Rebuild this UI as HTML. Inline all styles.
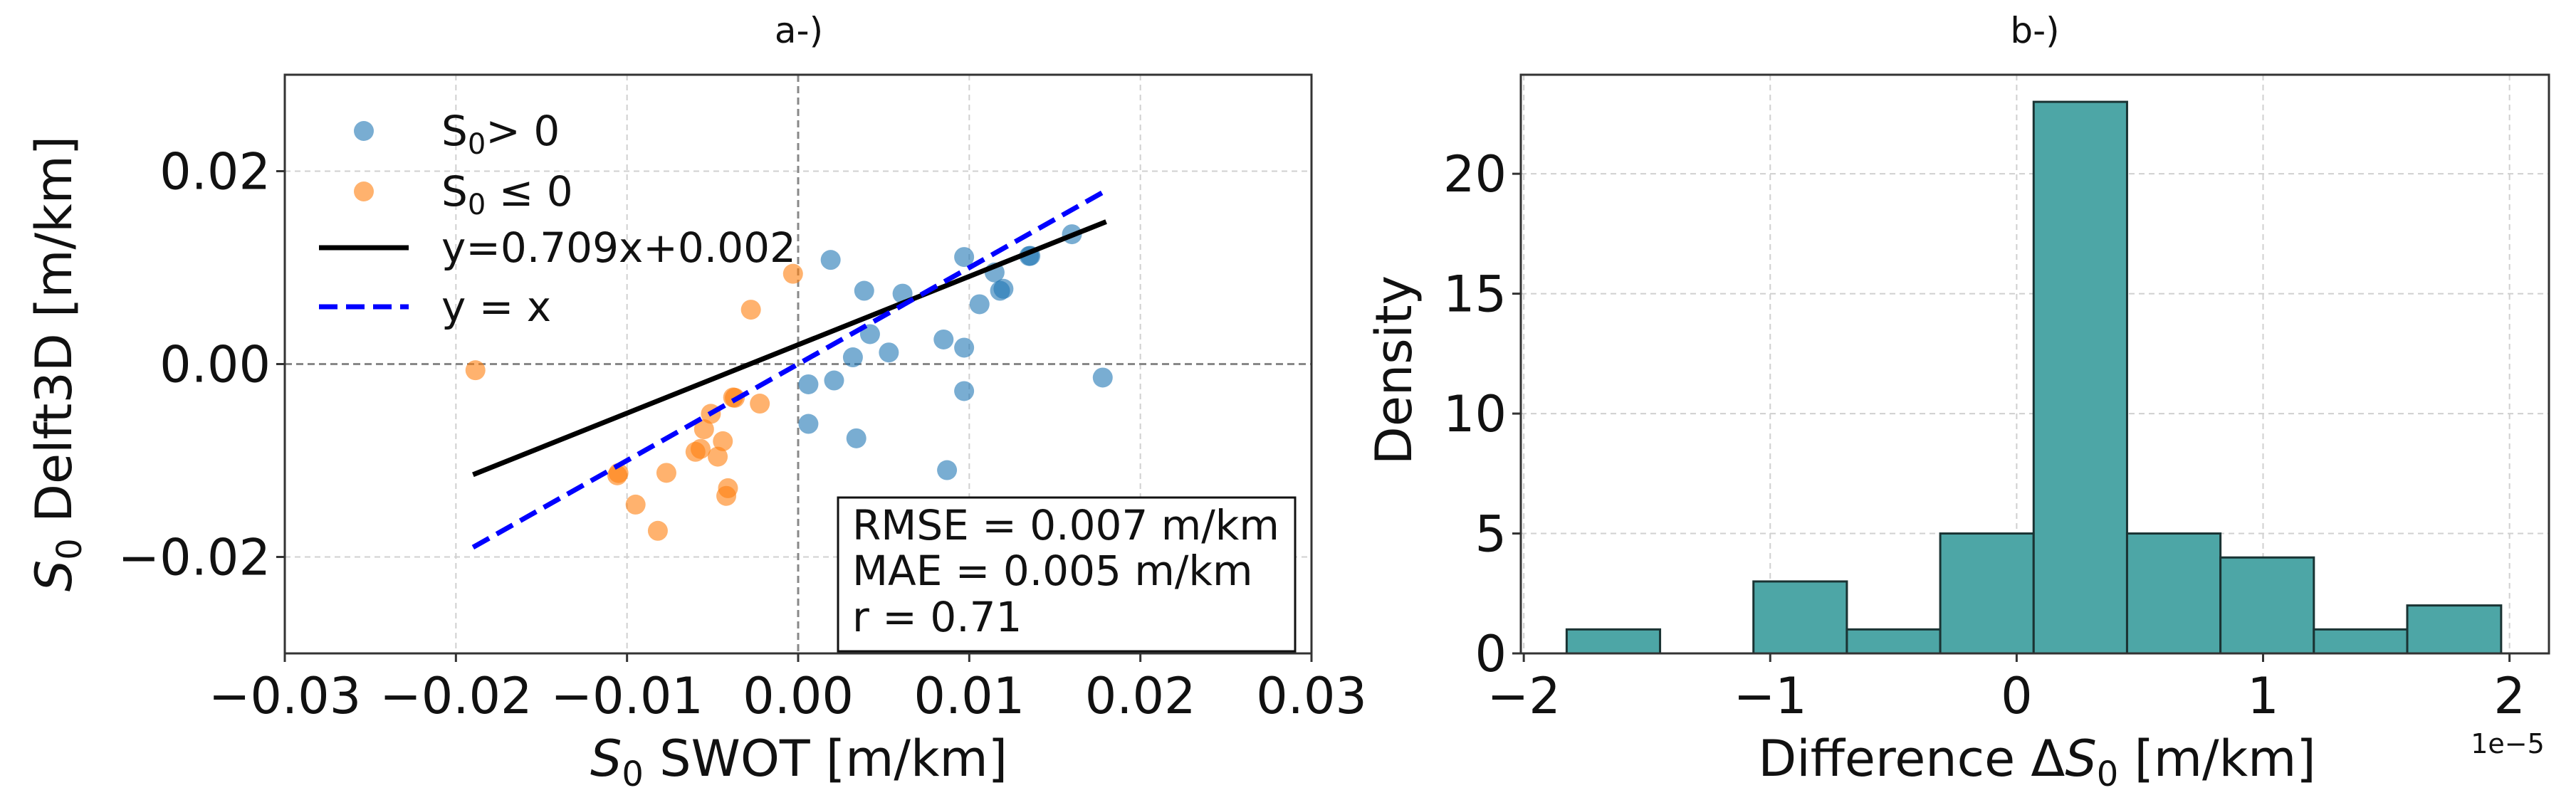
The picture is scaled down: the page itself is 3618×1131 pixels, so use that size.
<!DOCTYPE html>
<html><head><meta charset="utf-8"><style>
html,body{margin:0;padding:0;background:#fff;}
svg{display:block;font-family:"DejaVu Sans","Liberation Sans",sans-serif;}
</style></head><body>
<svg id="fig" width="3618" height="1131" viewBox="0 0 3618 1131" xmlns="http://www.w3.org/2000/svg">
<g id="pa"></g>
<g id="pb"></g>
</svg>
<script>
// ---- Panel a data ----
const posX = [0.0019,0.0097,0.01357,0.016,0.01148,0.0118,0.00386,0.0061,0.0106,0.0042,0.0085,0.0097,0.0032,0.0053,0.0006,0.0021,0.0097,0.0178,0.0006,0.0034,0.0087,0.0120,0.0135];
const posY = [0.0108,0.0111,0.01122,0.01346,0.0095,0.0076,0.0076,0.0073,0.0062,0.0031,0.00255,0.0017,0.0007,0.0012,-0.0021,-0.0017,-0.0028,-0.0014,-0.0062,-0.0077,-0.011,0.0078,0.0112];
const negX = [-0.01886,-0.0003,-0.00276,-0.0038,-0.00224,-0.0051,-0.0055,-0.0044,-0.0060,-0.0047,-0.01057,-0.0077,-0.0095,-0.0041,-0.0042,-0.0082,-0.0057,-0.0105,-0.0037];
const negY = [-0.00064,0.00936,0.00564,-0.00346,-0.0041,-0.00516,-0.00676,-0.008,-0.0091,-0.0096,-0.01154,-0.01128,-0.01457,-0.01287,-0.01367,-0.01729,-0.0088,-0.0113,-0.0035];
const fitSlope = 0.709, fitIntercept = 0.002;
const lineRange = [-0.019, 0.018];
const aTicks = [-0.03,-0.02,-0.01,0.00,0.01,0.02,0.03];
const aTickLabels = ["\u22120.03","\u22120.02","\u22120.01","0.00","0.01","0.02","0.03"];
const aYTicks = [-0.02,0.00,0.02];
const aYTickLabels = ["\u22120.02","0.00","0.02"];
// ---- Panel b data ----
const binEdges = [-1.826,-1.447,-1.068,-0.689,-0.310,0.069,0.448,0.827,1.206,1.585,1.966];
const binHeights = [1,0,3,1,5,23,5,4,1,2];
const bXTicks = [-2,-1,0,1,2];
const bXTickLabels = ["\u22122","\u22121","0","1","2"];
const bYTicks = [0,5,10,15,20];
const bYTickLabels = ["0","5","10","15","20"];

const NS="http://www.w3.org/2000/svg";
function mk(parent,tag,attrs,text){const e=document.createElementNS(NS,tag);for(const k in attrs)e.setAttribute(k,attrs[k]);if(text!==undefined)e.textContent=text;parent.appendChild(e);return e;}

// Panel a axes
const A={l:400,r:1842,t:105,b:918,x0:-0.03,x1:0.03,y0:-0.03,y1:0.03};
const ax=v=>A.l+(v-A.x0)/(A.x1-A.x0)*(A.r-A.l);
const ay=v=>A.b-(v-A.y0)/(A.y1-A.y0)*(A.b-A.t);
const pa=document.getElementById('pa');
let e;
aTicks.forEach((t,i)=>{
  if(i>0&&i<aTicks.length-1&&t!==0){e=mk(pa,'line',{x1:ax(t),x2:ax(t),y1:A.t,y2:A.b,stroke:'#d0d0d0','stroke-width':2,'stroke-dasharray':'8,6'});
  }
  e=mk(pa,'line',{x1:ax(t),x2:ax(t),y1:A.b,y2:A.b+12,stroke:'#333','stroke-width':3});
  
  e=mk(pa,'text',{x:ax(t),y:A.b+84,'font-size':70,'text-anchor':'middle',fill:'#111'},aTickLabels[i]);
  
});
aYTicks.forEach((t,i)=>{
  if(t!==0){e=mk(pa,'line',{x1:A.l,x2:A.r,y1:ay(t),y2:ay(t),stroke:'#d0d0d0','stroke-width':2,'stroke-dasharray':'8,6'});
  }
  e=mk(pa,'line',{x1:A.l-12,x2:A.l,y1:ay(t),y2:ay(t),stroke:'#333','stroke-width':3});
  
  e=mk(pa,'text',{x:A.l-20,y:ay(t)+25,'font-size':70,'text-anchor':'end',fill:'#111'},aYTickLabels[i]);
  
});
e=mk(pa,'line',{x1:ax(0),x2:ax(0),y1:A.t,y2:A.b,stroke:'#888','stroke-width':3,'stroke-dasharray':'10,6'});

e=mk(pa,'line',{x1:A.l,x2:A.r,y1:ay(0),y2:ay(0),stroke:'#888','stroke-width':3,'stroke-dasharray':'10,6'});

posX.forEach((x,i)=>{e=mk(pa,'circle',{cx:ax(x),cy:ay(posY[i]),r:14,fill:'#1f77b4','fill-opacity':0.6});
  });
negX.forEach((x,i)=>{e=mk(pa,'circle',{cx:ax(x),cy:ay(negY[i]),r:14,fill:'#ff7f0e','fill-opacity':0.6});
  });
e=mk(pa,'line',{x1:ax(lineRange[0]),y1:ay(fitSlope*lineRange[0]+fitIntercept),x2:ax(lineRange[1]),y2:ay(fitSlope*lineRange[1]+fitIntercept),stroke:'#000','stroke-width':7});

e=mk(pa,'line',{x1:ax(lineRange[0]),y1:ay(lineRange[0]),x2:ax(lineRange[1]),y2:ay(lineRange[1]),stroke:'#0000ff','stroke-width':7,'stroke-dasharray':'26,12'});

// axes frame
e=mk(pa,'rect',{x:A.l,y:A.t,width:A.r-A.l,height:A.b-A.t,fill:'none',stroke:'#333','stroke-width':3});

</script>
<script>
// static parts for panel a (legend, box, labels)
(function(){
const pa=document.getElementById('pa');
pa.insertAdjacentHTML('beforeend',`
<g font-size="58" fill="#111">
 <circle cx="511" cy="184" r="14" fill="#1f77b4" fill-opacity="0.6"/>
 <text x="620" y="204">S<tspan font-size="40" dy="12">0</tspan><tspan dy="-12">&gt; 0</tspan></text>
 <circle cx="511" cy="269" r="14" fill="#ff7f0e" fill-opacity="0.6"/>
 <text x="620" y="289">S<tspan font-size="40" dy="12">0</tspan><tspan dy="-12"> ≤ 0</tspan></text>
 <line x1="448" x2="574" y1="348" y2="348" stroke="#000" stroke-width="7"/>
 <text x="620" y="368">y=0.709x+0.002</text>
 <line x1="448" x2="574" y1="431" y2="431" stroke="#0000ff" stroke-width="7" stroke-dasharray="26,12"/>
 <text x="620" y="451">y = x</text>
</g>
<g>
 <rect x="1177" y="699" width="642" height="216" fill="#fff" stroke="#111" stroke-width="3"/>
 <text x="1197" y="758" font-size="58" fill="#111">RMSE = 0.007 m/km</text>
 <text x="1197" y="822" font-size="58" fill="#111">MAE = 0.005 m/km</text>
 <text x="1197" y="887" font-size="58" fill="#111">r = 0.71</text>
</g>
<text x="1122" y="60" font-size="50" text-anchor="middle" fill="#111">a-)</text>
<text x="1122" y="1090" font-size="70" text-anchor="middle" fill="#111"><tspan font-style="italic">S</tspan><tspan font-size="48" dy="14">0</tspan><tspan dy="-14"> SWOT [m/km]</tspan></text>
<text transform="translate(100,511) rotate(-90)" font-size="70" text-anchor="middle" fill="#111"><tspan font-style="italic">S</tspan><tspan font-size="48" dy="14">0</tspan><tspan dy="-14"> Delft3D [m/km]</tspan></text>
`);
})();
</script>
<script>
// Panel b
(function(){
const B={l:2136,r:3580,t:105,b:918,x0:-2.012,x1:2.16,y0:0,y1:24.13};
const bx=v=>B.l+(v-B.x0)/(B.x1-B.x0)*(B.r-B.l);
const by=v=>B.b-(v-B.y0)/(B.y1-B.y0)*(B.b-B.t);
const pb=document.getElementById('pb');
let e;
bXTicks.forEach((t,i)=>{
  e=mk(pb,'line',{x1:bx(t),x2:bx(t),y1:B.t,y2:B.b,stroke:'#d0d0d0','stroke-width':2,'stroke-dasharray':'8,6'});
  
  e=mk(pb,'line',{x1:bx(t),x2:bx(t),y1:B.b,y2:B.b+12,stroke:'#333','stroke-width':3});
  
  e=mk(pb,'text',{x:bx(t),y:B.b+84,'font-size':70,'text-anchor':'middle',fill:'#111'},bXTickLabels[i]);
  
});
bYTicks.forEach((t,i)=>{
  if(t>0){e=mk(pb,'line',{x1:B.l,x2:B.r,y1:by(t),y2:by(t),stroke:'#d0d0d0','stroke-width':2,'stroke-dasharray':'8,6'});
  }
  e=mk(pb,'line',{x1:B.l-12,x2:B.l,y1:by(t),y2:by(t),stroke:'#333','stroke-width':3});
  
  e=mk(pb,'text',{x:B.l-20,y:by(t)+25,'font-size':70,'text-anchor':'end',fill:'#111'},bYTickLabels[i]);
  
});
binHeights.forEach((h,i)=>{
  if(h<=0)return;
  e=mk(pb,'rect',{x:bx(binEdges[i]),y:by(h),width:bx(binEdges[i+1])-bx(binEdges[i]),height:by(0)-by(h),fill:'#4da6a6',stroke:'#1a3333','stroke-width':3});
  
});
e=mk(pb,'rect',{x:B.l,y:B.t,width:B.r-B.l,height:B.b-B.t,fill:'none',stroke:'#333','stroke-width':3});

pb.insertAdjacentHTML('beforeend',`
<text x="2858" y="60" font-size="50" text-anchor="middle" fill="#111">b-)</text>
<text x="2861" y="1090" font-size="70" text-anchor="middle" fill="#111">Difference Δ<tspan font-style="italic">S</tspan><tspan font-size="48" dy="14">0</tspan><tspan dy="-14"> [m/km]</tspan></text>
<text x="3522" y="1058" font-size="38" text-anchor="middle" fill="#111">1e−5</text>
<text transform="translate(1982,520) rotate(-90)" font-size="70" text-anchor="middle" fill="#111">Density</text>
`);
})();
</script>
</body></html>
